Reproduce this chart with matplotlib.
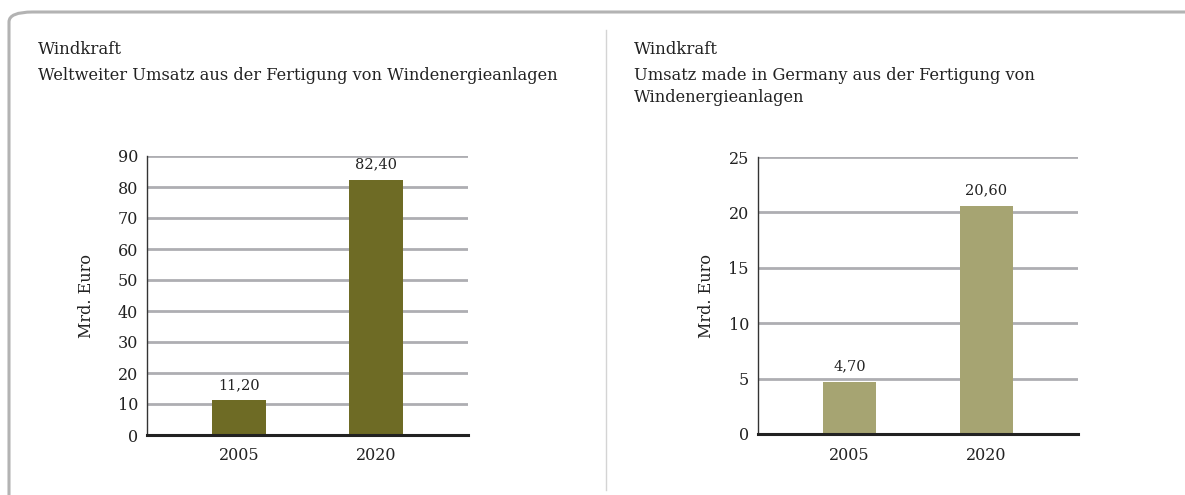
import matplotlib
matplotlib.use("Agg")
import matplotlib.pyplot as plt
from matplotlib.patches import FancyBboxPatch
from matplotlib.lines import Line2D

# Data
years = ["2005", "2020"]
world_values = [11.20, 82.40]
germany_values = [4.70, 20.60]
world_labels = ["11,20", "82,40"]
germany_labels = ["4,70", "20,60"]
world_ticks = [0, 10, 20, 30, 40, 50, 60, 70, 80, 90]
germany_ticks = [0, 5, 10, 15, 20, 25]

title_left = "Windkraft"
subtitle_left = "Weltweiter Umsatz aus der Fertigung von Windenergieanlagen"
title_right = "Windkraft"
subtitle_right = "Umsatz made in Germany aus der Fertigung von\nWindenergieanlagen"
ylabel = "Mrd. Euro"

FONT = "DejaVu Serif"
plt.rcParams['font.family'] = [FONT]

W, H = 1185, 495
fig = plt.figure(figsize=(W / 100, H / 100), dpi=100)
fig.patch.set_facecolor("white")

def fx(px):
    return px / W

def fy(py):
    return 1 - py / H

# outer rounded frame
frame = FancyBboxPatch((fx(9), fy(600)), fx(1400), fy(12) - fy(600),
                       boxstyle="round,pad=0,rounding_size=0.02",
                       transform=fig.transFigure, facecolor="none",
                       edgecolor="#b3b3b3", linewidth=2.2, zorder=0)
fig.patches.append(frame)
# divider
fig.add_artist(Line2D([fx(606), fx(606)], [fy(30), fy(490)], transform=fig.transFigure,
                      color="#d4d4d4", linewidth=1.0))


def make_chart(rect, values, labels, ticks, color, ymax, ylab_x):
    ax = fig.add_axes(rect)
    x = [0, 1]
    ax.bar(x, values, width=0.39, color=color, zorder=3)
    ax.set_xlim(-0.67, 1.67)
    ax.set_ylim(0, ymax)
    ax.set_yticks(ticks)
    ax.set_yticklabels([str(t) for t in ticks], fontsize=11.5, color="#222222")
    ax.set_xticks(x)
    ax.set_xticklabels(years, fontsize=11.5, color="#222222")
    ax.tick_params(axis="both", length=0)
    ax.tick_params(axis="y", pad=6.5)
    ax.tick_params(axis="x", pad=9)
    for t in ticks:
        if t > 0:
            ax.axhline(t, color="#aeaeb2", linewidth=2.0, zorder=1)
    for s in ["top", "right"]:
        ax.spines[s].set_visible(False)
    ax.spines["left"].set_color("#333333")
    ax.spines["left"].set_linewidth(1.0)
    ax.spines["bottom"].set_color("#222222")
    ax.spines["bottom"].set_linewidth(2.2)
    ax.spines["bottom"].set_zorder(4)
    for xi, v, lab in zip(x, values, labels):
        ax.annotate(lab, (xi, v), xytext=(0, 6), textcoords="offset points",
                    ha="center", va="bottom", fontsize=10.5, color="#222222")
    ax.set_ylabel(ylabel, fontsize=11.5, color="#222222")
    ax.yaxis.set_label_coords(ylab_x, 0.5)
    return ax

ax1 = make_chart([fx(147), fy(435), fx(468) - fx(147), fy(156) - fy(435)],
                 world_values, world_labels, world_ticks, "#6e6b25", 90, -0.162)
ax2 = make_chart([fx(758), fy(434), fx(1078) - fx(758), fy(157) - fy(434)],
                 germany_values, germany_labels, germany_ticks, "#a6a472", 25, -0.135)

fig.text(fx(38), fy(50), title_left, fontsize=12, color="#222222", va="center", ha="left")
fig.text(fx(38), fy(75), subtitle_left, fontsize=11.7, color="#222222", va="center", ha="left")
fig.text(fx(634), fy(49), title_right, fontsize=12, color="#222222", va="center", ha="left")
fig.text(fx(634), fy(75), subtitle_right.split("\n")[0], fontsize=11.7, color="#222222",
         va="center", ha="left")
fig.text(fx(634), fy(98), subtitle_right.split("\n")[1], fontsize=11.7, color="#222222",
         va="center", ha="left")

fig.savefig("out.png", dpi=100, facecolor="white")
